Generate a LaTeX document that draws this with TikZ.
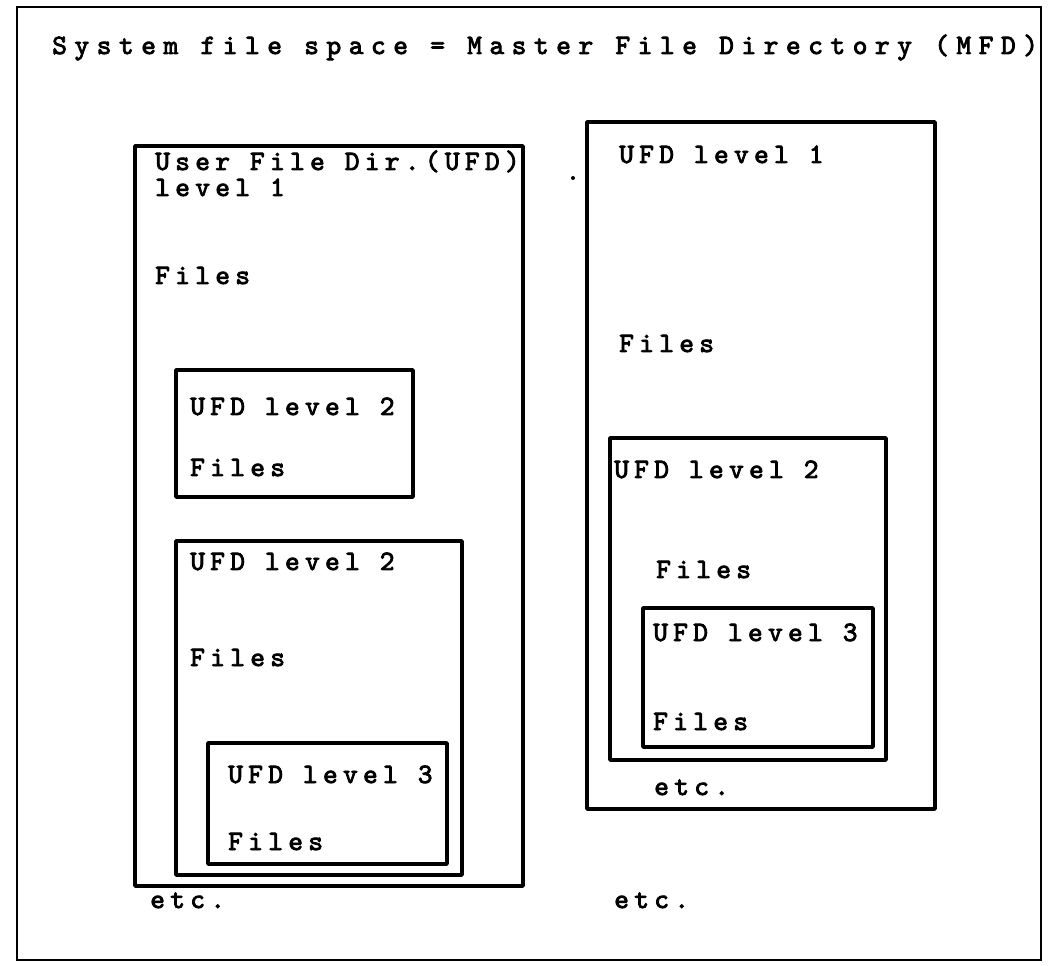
\documentclass[tikz,border=0pt]{standalone}
\usepackage{fontspec}
\newfontfamily\typewriter{lmmono10-regular.otf}[LetterSpace=19, FakeBold=3]
\newfontfamily\typewriterwide{lmmono10-regular.otf}[LetterSpace=27, FakeBold=3]
\usepackage{tikz}

\begin{document}
\begin{tikzpicture}[x=0.75pt, y=-0.75pt]
        % Define styles
        \tikzset{
            dirbox/.style={draw, line width=2.8pt, line join=round},
            frame/.style={draw, line width=2pt},
            txt/.style={anchor=base west, inner sep=0pt, font=\typewriter\fontsize{21}{25}\selectfont},
            title/.style={txt, font=\typewriterwide\fontsize{21}{25}\selectfont}
        }
        \useasboundingbox (0,0) rectangle (1051,966);

        % Outer frame = MFD
        \draw[frame] (17,7) rectangle (1041,960);
        \node[title] (mfd) at (52,54) {System file space = Master File Directory (MFD)};

        % Left UFD level 1
        \draw[dirbox] (135,146) rectangle (523,886);
        \node[txt] (ufd_a) at (155,170) {User File Dir.(UFD)};
        \node[txt] (ufd_a_lvl) at (155,196) {level 1};
        \node[txt] (ufd_a_files) at (155,284) {Files};

        \draw[dirbox] (176,370) rectangle (413,497);
        \node[txt] (ufd_b) at (190,415) {UFD level 2};
        \node[txt] (ufd_b_files) at (190,476) {Files};

        \draw[dirbox] (176,541) rectangle (462,875);
        \node[txt] (ufd_c) at (190,570) {UFD level 2};
        \node[txt] (ufd_c_files) at (190,666) {Files};

        \draw[dirbox] (208,743) rectangle (447,864);
        \node[txt] (ufd_d) at (228,783) {UFD level 3};
        \node[txt] (ufd_d_files) at (228,850) {Files};

        \node[txt] (etc_a) at (150,908) {etc.};

        % Right UFD level 1
        \draw[dirbox] (587,122) rectangle (935,809);
        \node[txt] (ufd_e) at (619,163) {UFD level 1};
        \node[txt] (ufd_e_files) at (619,352) {Files};
        \fill (573,178) circle (2);

        \draw[dirbox] (610,438) rectangle (886,760);
        \node[txt] (ufd_f) at (614,478) {UFD level 2};
        \node[txt] (ufd_f_files) at (656,578) {Files};

        \draw[dirbox] (643,608) rectangle (873,747);
        \node[txt] (ufd_g) at (653,641) {UFD level 3};
        \node[txt] (ufd_g_files) at (653,730) {Files};

        \node[txt] (etc_b) at (654,795) {etc.};
        \node[txt] (etc_c) at (614,908) {etc.};
    \end{tikzpicture}
\end{document}
